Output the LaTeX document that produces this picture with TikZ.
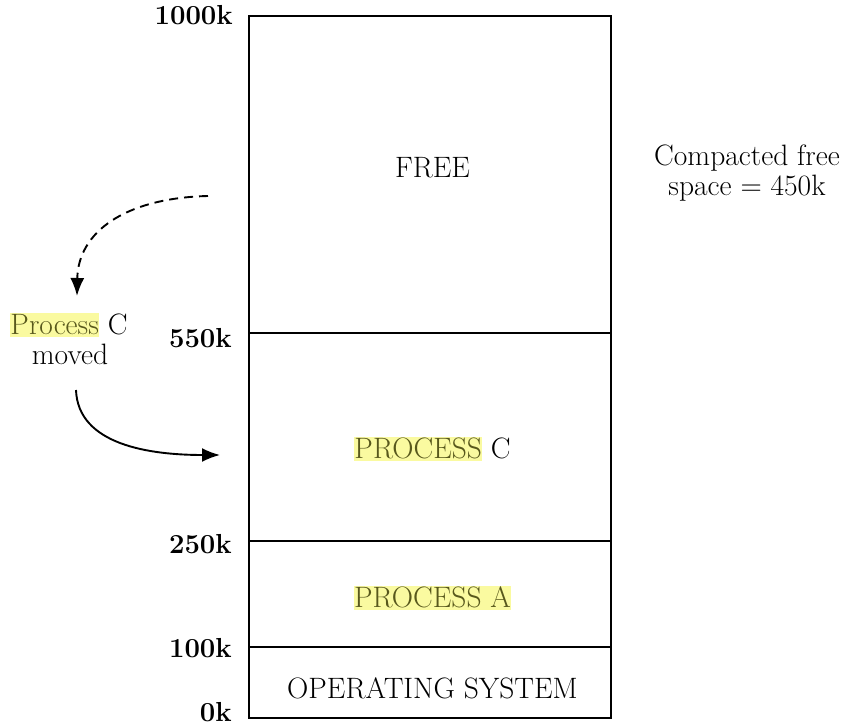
\documentclass[tikz,border=0pt]{standalone}
\usetikzlibrary{arrows.meta}
\definecolor{hlbg}{RGB}{250,250,160}
\definecolor{hltext}{RGB}{88,88,28}
% highlighted word: pale yellow band behind olive text
\newcommand\hilite[1]{{\setlength{\fboxsep}{0pt}\colorbox{hlbg}{\textcolor{hltext}{\rule[-0.1em]{0pt}{0.8em}#1}}}}
\tikzset{
  seg/.style={draw, line width=2.7pt, minimum width=362pt, inner sep=0pt},
  txt/.style={inner sep=0pt, font=\fontsize{29.5}{34}\selectfont},
  lbl/.style={inner sep=0pt, font=\fontsize{27.5}{32}\selectfont\bfseries, anchor=base east},
  movearrow/.style={line width=1.9pt, -{Latex[length=18pt,width=14pt]}},
}
\begin{document}
\begin{tikzpicture}[x=1pt,y=-1pt]
\useasboundingbox (0,0) rectangle (848,727);

% memory segments
\node[seg, minimum height=317pt] (free) at (430,174.5) {};
\node[seg, minimum height=208pt] (segc) at (430,437) {};
\node[seg, minimum height=106pt] (sega) at (430,594) {};
\node[seg, minimum height=71pt]  (segos) at (430,682.5) {};

% segment contents
\node[txt, anchor=base] (tfree) at (432.5,178) {FREE};
\node[txt, anchor=base] (tc) at (432.5,458) {\hilite{PROCESS} C};
\node[txt, anchor=base] (ta) at (432.5,607) {\hilite{PROCESS A}};
\node[txt, anchor=base] (tos) at (432.5,698) {OPERATING SYSTEM};

% addresses
\node[lbl] (l1000) at (233,25) {1000k};
\node[lbl] (l550) at (232,347) {550k};
\node[lbl] (l250) at (232,553) {250k};
\node[lbl] (l100) at (232,657) {100k};
\node[lbl] (l0) at (232,721) {0k};

% note on the right
\node[txt, anchor=base] (cf1) at (747,166) {Compacted free};
\node[txt, anchor=base] (cf2) at (747,196) {space = 450k};

% relocation note and arrows
\node[txt, anchor=base] (pc1) at (69,334) {\hilite{Process} C};
\node[txt, anchor=base] (pc2) at (70,364) {moved};

\coordinate (ds) at (208,196);
\coordinate (dtip) at (77,296);
\coordinate (ss) at (76,390);
\coordinate (stip) at (220,455);

\draw[movearrow, dash pattern=on 9pt off 6pt] (ds) .. controls (125,198) and (78,232) .. (dtip);
\draw[movearrow] (ss) .. controls (78,445) and (150,455) .. (stip);
\end{tikzpicture}
\end{document}
